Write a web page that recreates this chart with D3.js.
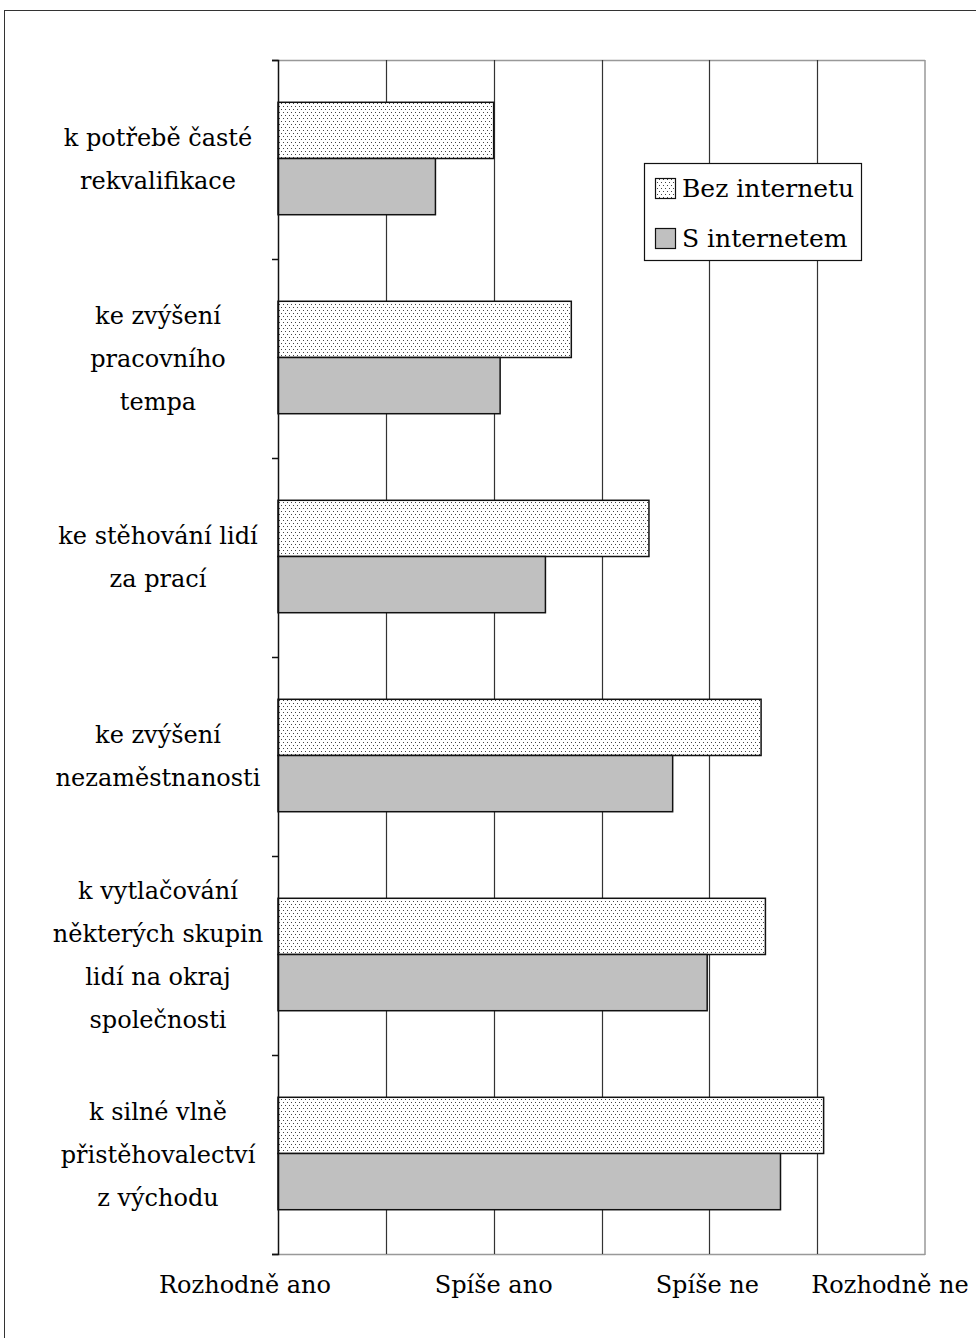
<!DOCTYPE html>
<html><head><meta charset="utf-8">
<script src="https://cdn.jsdelivr.net/npm/d3@7"></script>
<style>body{margin:0;background:#fff}svg{display:block}</style>
</head><body>
<script>
const categories = [
  ["k potřebě časté","rekvalifikace"],
  ["ke zvýšení","pracovního","tempa"],
  ["ke stěhování lidí","za prací"],
  ["ke zvýšení","nezaměstnanosti"],
  ["k vytlačování","některých skupin","lidí na okraj","společnosti"],
  ["k silné vlně","přistěhovalectví","z východu"]
];
const bezInternetu = [2.00, 2.36, 2.72, 3.24, 3.26, 3.53];
const sInternetem  = [1.73, 2.03, 2.24, 2.83, 2.99, 3.33];
const seriesNames = ["Bez internetu", "S internetem"];
const tickValues = [1, 2, 3, 4];
const tickLabels = ["Rozhodně ano", "Spíše ano", "Spíše ne", "Rozhodně ne"];
const gridValues = [1.5, 2, 2.5, 3, 3.5];

const W = 976, H = 1338;
const FONT = "'DejaVu Serif', serif";
const svg = d3.select("body").append("svg").attr("width", W).attr("height", H);

const defs = svg.append("defs");
const pat = defs.append("pattern").attr("id","dots").attr("patternUnits","userSpaceOnUse")
  .attr("width",4).attr("height",6);
pat.append("rect").attr("width",4).attr("height",6).attr("fill","#fff");
pat.append("rect").attr("x",1).attr("y",1).attr("width",1).attr("height",1).attr("fill","#444");
pat.append("rect").attr("x",3).attr("y",4).attr("width",1).attr("height",1).attr("fill","#444");

// outer frame
svg.append("rect").attr("x",4.5).attr("y",10.5).attr("width",W+10).attr("height",H+10)
  .attr("fill","none").attr("stroke","#333").attr("stroke-width",1);

const x = d3.scaleLinear().domain([1,4]).range([278,925]);
const y = d3.scaleBand().domain(d3.range(categories.length)).range([60,1254]).paddingInner(0).paddingOuter(0);
const inner = d3.scaleBand().domain([0,1]).range([0,y.bandwidth()]).paddingInner(0).paddingOuter(0.77);

// plot frame (top, right, bottom gray)
svg.append("line").attr("x1",x(1)).attr("x2",x(4)).attr("y1",60.5).attr("y2",60.5).attr("stroke","#999").attr("stroke-width",1.5);
svg.append("line").attr("x1",x(1)).attr("x2",x(4)).attr("y1",1254.5).attr("y2",1254.5).attr("stroke","#999").attr("stroke-width",1.5);
svg.append("line").attr("x1",x(4)).attr("x2",x(4)).attr("y1",60).attr("y2",1255).attr("stroke","#999").attr("stroke-width",1.5);

// gridlines
svg.append("g").selectAll("line").data(gridValues).join("line")
  .attr("x1",d=>Math.round(x(d))+0.5).attr("x2",d=>Math.round(x(d))+0.5)
  .attr("y1",60).attr("y2",1254).attr("stroke","#333").attr("stroke-width",1.2);

// bars
const g = svg.append("g");
categories.forEach((c,i)=>{
  const vals=[bezInternetu[i], sInternetem[i]];
  vals.forEach((v,j)=>{
    g.append("rect")
      .attr("x",x(1)).attr("y",y(i)+inner(j)-1)
      .attr("width",x(v)-x(1)).attr("height",inner.bandwidth())
      .attr("fill", j===0 ? "url(#dots)" : "#c0c0c0")
      .attr("stroke","#111").attr("stroke-width",1.5);
  });
});

// left axis
const yAxis = d3.axisLeft(d3.scaleLinear().domain([0,6]).range([60,1254])).tickValues(d3.range(7)).tickSize(6).tickFormat("");
const ya = svg.append("g").attr("transform",`translate(${x(1)},0)`).call(yAxis);
ya.selectAll("path").attr("stroke","#111").attr("stroke-width",1.5);
ya.selectAll("line").attr("stroke","#111").attr("stroke-width",1.5);

// category labels
categories.forEach((lines,i)=>{
  const cy = y(i)+y.bandwidth()/2;
  const n = lines.length;
  const t = svg.append("text").attr("text-anchor","middle").attr("font-family",FONT)
    .attr("font-size",24).attr("fill","#000");
  lines.forEach((ln,k)=>{
    t.append("tspan").attr("x",158).attr("y",cy+8+(k-(n-1)/2)*43).text(ln);
  });
});

// x labels
const xoff = [-33,0,-2,-35];
svg.append("g").selectAll("text").data(tickValues).join("text")
  .attr("x",(d,i)=>x(d)+xoff[i]).attr("y",1293).attr("text-anchor","middle")
  .attr("font-family",FONT).attr("font-size",24).attr("fill","#000")
  .text((d,i)=>tickLabels[i]);

// legend
const lg = svg.append("g").attr("transform","translate(644,163)");
lg.append("rect").attr("x",0.5).attr("y",0.5).attr("width",217).attr("height",97).attr("fill","#fff").attr("stroke","#111").attr("stroke-width",1.2);
seriesNames.forEach((s,j)=>{
  lg.append("rect").attr("x",11.5).attr("y",15.5+j*50).attr("width",20).attr("height",20)
    .attr("fill", j===0?"url(#dots)":"#c0c0c0").attr("stroke","#111").attr("stroke-width",1.2);
  lg.append("text").attr("x",38).attr("y",34+j*50).attr("font-family",FONT).attr("font-size",25)
    .attr("fill","#000").text(s);
});
</script>
</body></html>
